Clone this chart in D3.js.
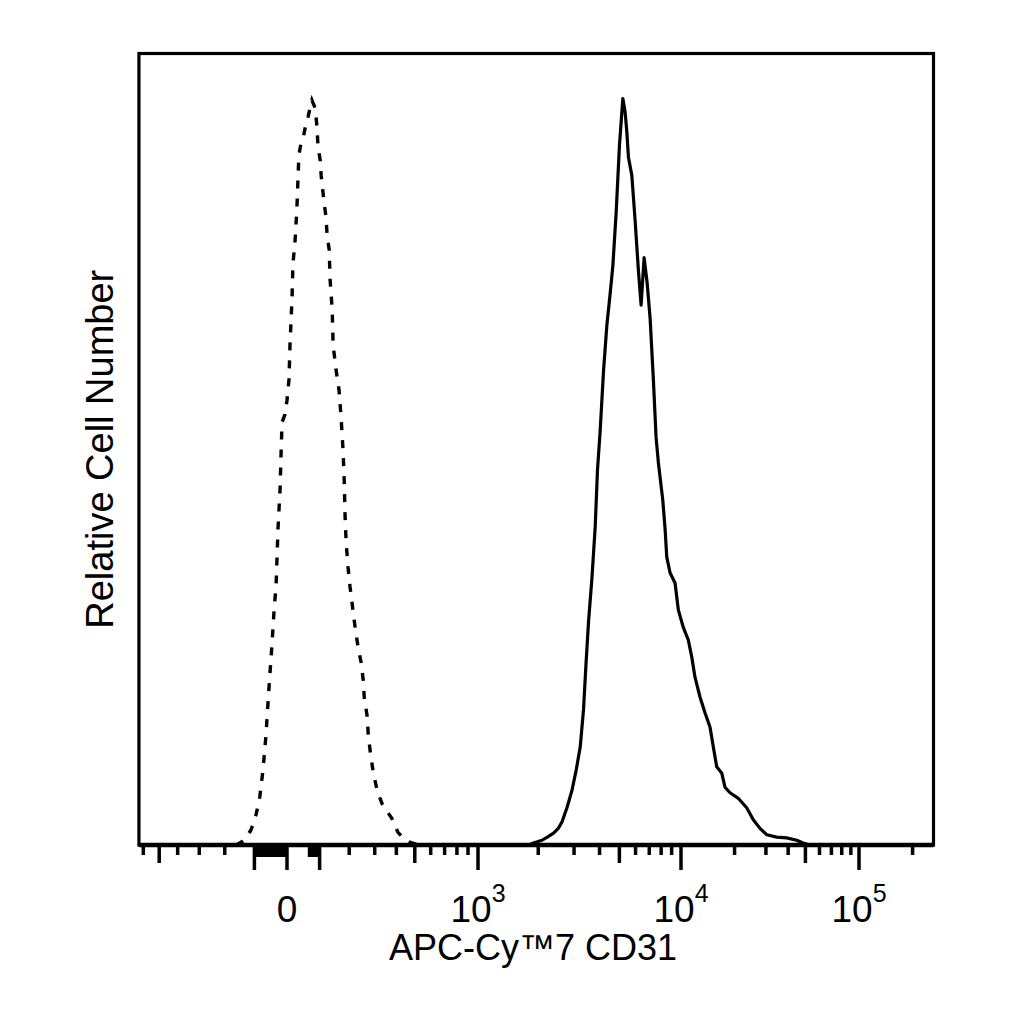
<!DOCTYPE html>
<html>
<head>
<meta charset="utf-8">
<script src="https://cdn.jsdelivr.net/npm/d3@7"></script>
<style>
  body { margin: 0; background: #fff; }
  text { font-family: "Liberation Sans", Arial, sans-serif; fill: #000; }
</style>
</head>
<body>
<svg id="chart"></svg>
<script>
// fluorescence values (APC-Cy7 units) and relative counts
const controlValues = [-160, -141, -127, -111, -102, -95, -89, -83, -73, -64, -55, -46, -39, -33, -27, -21, -18, -15, -6, 0, 6, 9, 15, 18, 24, 30, 33, 36, 42, 49, 55, 64, 70, 76,
  86, 92, 95, 102, 105, 111, 114, 121, 124, 131, 134, 141, 144, 154, 164, 171, 178, 182, 185, 189, 196, 203, 211, 222, 233, 245, 253, 257, 269, 273, 282, 294, 312, 334, 356, 377, 408, 436, 467, 520, 262144];
const controlCounts = [0, 0.4, 0.9, 1.9, 2.9, 3.8, 4.9, 6.1, 9.5, 13.8, 19.6, 25.0, 29.7, 32.8, 40.1, 44.9, 49.3, 53.4, 54.4, 56.2, 58.8, 63.2, 68.9, 73.5, 76.1, 80.5, 84.0, 87.2, 88.6, 89.3, 90.6, 92.0, 93.1, 94.1,
  93.1, 90.6, 88.2, 86.5, 84.6, 82.4, 81.3, 79.2, 77.1, 75.2, 71.4, 67.6, 63.2, 60.0, 57.5, 54.1, 49.9, 46.1, 41.7, 38.2, 35.0, 32.6, 30.4, 27.4, 25.0, 23.0, 20.8, 18.6, 16.2, 13.9, 11.6, 9.1, 6.7, 5.1, 4.2, 3.4, 1.6, 0.9, 0.4, 0, 0];

const cd31Values = [1800, 1892, 1979, 2088, 2217, 2380, 2510, 2617, 2769, 2930, 3075, 3217, 3338, 3430, 3532, 3670, 3808, 3908, 4029, 4181, 4344, 4508, 4647, 4822, 5005, 5199,
  5335, 5438, 5537, 5752, 5969, 6194, 6385, 6604, 6829, 7064, 7330, 7556, 7754, 8146, 8358, 8519, 8841, 9351, 9704, 10302, 10990, 11484, 11985, 12786, 13640, 14551, 15186, 15868,
  16929, 17667, 18848, 20983, 23391, 25475, 27782, 30296, 34481, 39242, 44659, 48448, 53042];
const cd31Counts = [0, 0.25, 0.4, 0.6, 1.0, 1.5, 2.1, 2.9, 4.7, 6.9, 9.5, 12.4, 17.1, 22.7, 28.2, 33.7, 40.2, 47.4, 52.4, 59.8, 65.7, 69.7, 73.2, 79.9, 88.4, 94.3,
  92.6, 90.1, 86.9, 84.6, 78.9, 72.6, 68.2, 74.2, 71.1, 66.6, 58.8, 51.5, 48.3, 43.6, 40.0, 36.4, 34.4, 33.1, 29.7, 27.5, 25.9, 23.8, 21.2, 18.7, 16.7, 14.9, 12.4, 9.9,
  9.1, 7.3, 6.6, 5.9, 4.7, 3.2, 2.1, 1.3, 1.0, 0.9, 0.6, 0.25, 0];

// axis ticks (biexponential display)
const majorTicks = [-100, 0, 100, 1e3, 1e4, 1e5];
const mediumTicks = [-500, 500, 5e3, 5e4];
const minorTicks = [-600, -400, -300, -200, 200, 300, 400, 600, 700, 800, 900,
  2e3, 3e3, 4e3, 6e3, 7e3, 8e3, 9e3, 2e4, 3e4, 4e4, 6e4, 7e4, 8e4, 9e4, 2e5];
const nearZeroTicks = [-90, -80, -70, -60, -50, -40, -30, -20, -10, 70, 80, 90];
const labelValues = [0, 1e3, 1e4, 1e5];
const labelBases = ["0", "10", "10", "10"];
const labelExponents = ["", "3", "4", "5"];

const xDomain = [-630, 262144];
const yDomain = [0, 100];

//svg size and plot frame
const svgWidth = 1024, svgHeight = 1024;
const frame = { top: 53.5, bottom: 845 };

const svg = d3.select('#chart')
  .attr('width', svgWidth)
  .attr('height', svgHeight);

//biexponential-like transform: linear around zero, log for large values
const C = 300;
const tf = v => Math.asinh(v / C);

//x scale works on transformed values, anchored at 0 and the decades
const xT = d3.scaleLinear()
  .domain([tf(0), tf(1e3), tf(1e4), tf(1e5)])
  .range([287, 478, 681, 859]);
const x = v => xT(tf(v));

const y = d3.scaleLinear()
  .domain(yDomain)
  .range([frame.bottom, frame.top]);

//histograms
const line = d3.line()
  .x(d => x(d[0]))
  .y(d => y(d[1]));

svg.append('path')
  .datum(d3.zip(controlValues, controlCounts))
  .attr('fill', 'none')
  .attr('stroke', '#000')
  .attr('stroke-width', 3.4)
  .attr('stroke-dasharray', '8,10')
  .attr('d', line);

svg.append('path')
  .datum(d3.zip(cd31Values, cd31Counts))
  .attr('fill', 'none')
  .attr('stroke', '#000')
  .attr('stroke-width', 3.2)
  .attr('stroke-linejoin', 'round')
  .attr('d', line);

//plot frame
svg.append('rect')
  .attr('x', x(xDomain[0]))
  .attr('y', frame.top)
  .attr('width', x(xDomain[1]) - x(xDomain[0]))
  .attr('height', frame.bottom - frame.top)
  .attr('fill', 'none')
  .attr('stroke', '#000')
  .attr('stroke-width', 3.2);

//bottom ticks in three lengths
function tickRow(values, size, width) {
  svg.append('g')
    .selectAll('line')
    .data(values)
    .join('line')
    .attr('x1', d => x(d))
    .attr('x2', d => x(d))
    .attr('y1', frame.bottom)
    .attr('y2', frame.bottom + size)
    .attr('stroke', '#000')
    .attr('stroke-width', width);
}
tickRow(nearZeroTicks, 12, 4.5);
tickRow(minorTicks, 10, 3.5);
tickRow(mediumTicks, 18, 3.5);
tickRow(majorTicks, 25, 3.5);

//thick axis line along the bottom
svg.append('line')
  .attr('x1', x(xDomain[0]))
  .attr('x2', x(xDomain[1]))
  .attr('y1', frame.bottom)
  .attr('y2', frame.bottom)
  .attr('stroke', '#000')
  .attr('stroke-width', 4.5);

//tick labels with superscript exponents
const labels = svg.append('g')
  .selectAll('text')
  .data(d3.range(labelValues.length))
  .join('text')
  .attr('x', i => x(labelValues[i]))
  .attr('y', 922)
  .attr('text-anchor', 'middle')
  .attr('font-size', 37);
labels.append('tspan').text(i => labelBases[i]);
labels.append('tspan')
  .attr('dy', -20)
  .attr('font-size', 25)
  .text(i => labelExponents[i]);

//axis titles
svg.append('text')
  .attr('x', 533)
  .attr('y', 960)
  .attr('text-anchor', 'middle')
  .attr('font-size', 36)
  .text('APC-Cy\u21227 CD31');

svg.append('text')
  .attr('transform', 'translate(113,' + ((frame.top + frame.bottom) / 2) + ') rotate(-90)')
  .attr('text-anchor', 'middle')
  .attr('font-size', 38)
  .text('Relative Cell Number');
</script>
</body>
</html>
